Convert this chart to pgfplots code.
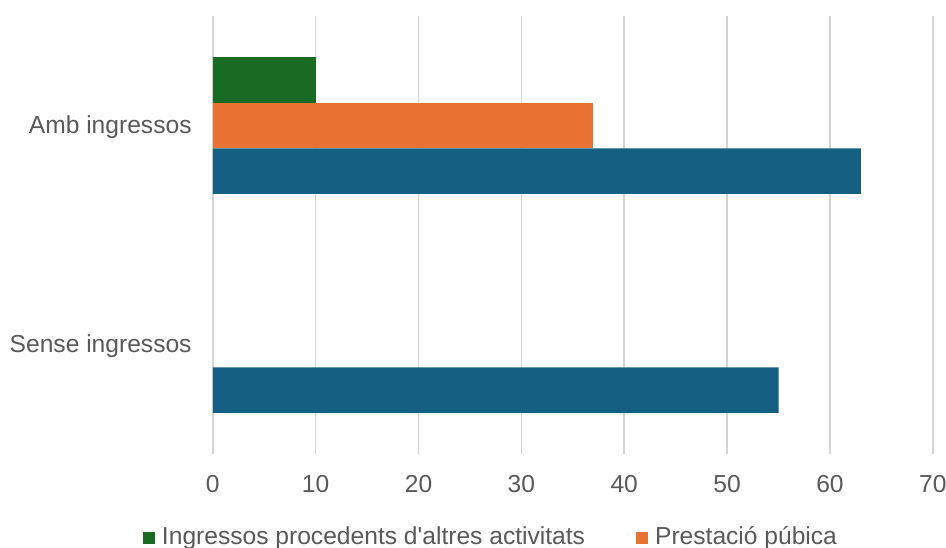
\documentclass[border=0pt]{standalone}
\usepackage{pgfplots}
\pgfplotsset{compat=1.18}
\usepackage{fontspec}
\setmainfont{Liberation Sans}
\definecolor{cblue}{HTML}{156082}
\definecolor{corange}{HTML}{E97132}
\definecolor{cgreen}{HTML}{196B24}
\definecolor{cgrid}{HTML}{D4D4D4}
\definecolor{ctext}{HTML}{595959}
\pgfplotsset{sqlegend/.style={legend image code/.code={\fill[##1] (0pt,-3pt) rectangle (6pt,3pt);}}}
\begin{document}
\begin{tikzpicture}
\path[use as bounding box, clip] (-106.4pt,-46.5pt) rectangle (366.6pt,227pt);
\begin{axis}[
  scale only axis, width=360pt, height=219pt,
  xmin=0, xmax=70, ymin=-0.5, ymax=1.5,
  xtick={0,10,...,70}, ytick={0,1},
  yticklabels={Sense ingressos, Amb ingressos},
  axis line style={draw=none}, major tick length=0pt,
  xmajorgrids, major grid style={cgrid, line width=0.75pt},
  tick label style={font=\fontsize{12.3}{14}\selectfont, text=ctext, inner sep=0pt},
  xticklabel style={anchor=base, yshift=-19pt},
  yticklabel style={anchor=base east, xshift=-10.4pt, yshift=-4pt},
  /pgf/number format/assume math mode=true,
  xbar, bar width=0.208,
  legend columns=2,
  legend style={at={(axis description cs:0,0)}, anchor=north west,
    xshift=-34.9pt, yshift=-36pt, draw=none, fill=none, inner sep=0pt, outer sep=0pt,
    nodes={inner sep=0pt, text height=9pt, text depth=3pt,
      font=\fontsize{12.3}{14}\selectfont, text=ctext},
    /tikz/every odd column/.append style={column sep=3.5pt},
    /tikz/every even column/.append style={column sep=25.5pt}},
]
\addplot[fill=cgreen, draw=none, bar shift=0.208, sqlegend]
  coordinates {(10,1)};
\addlegendentry{Ingressos procedents d\textquotesingle altres activitats}
\addplot[fill=corange, draw=none, bar shift=0, sqlegend]
  coordinates {(37,1)};
\addlegendentry{Prestació púbica}
\addplot[fill=cblue, draw=none, bar shift=-0.208, forget plot]
  coordinates {(63,1) (55,0)};
\end{axis}
\end{tikzpicture}
\end{document}
